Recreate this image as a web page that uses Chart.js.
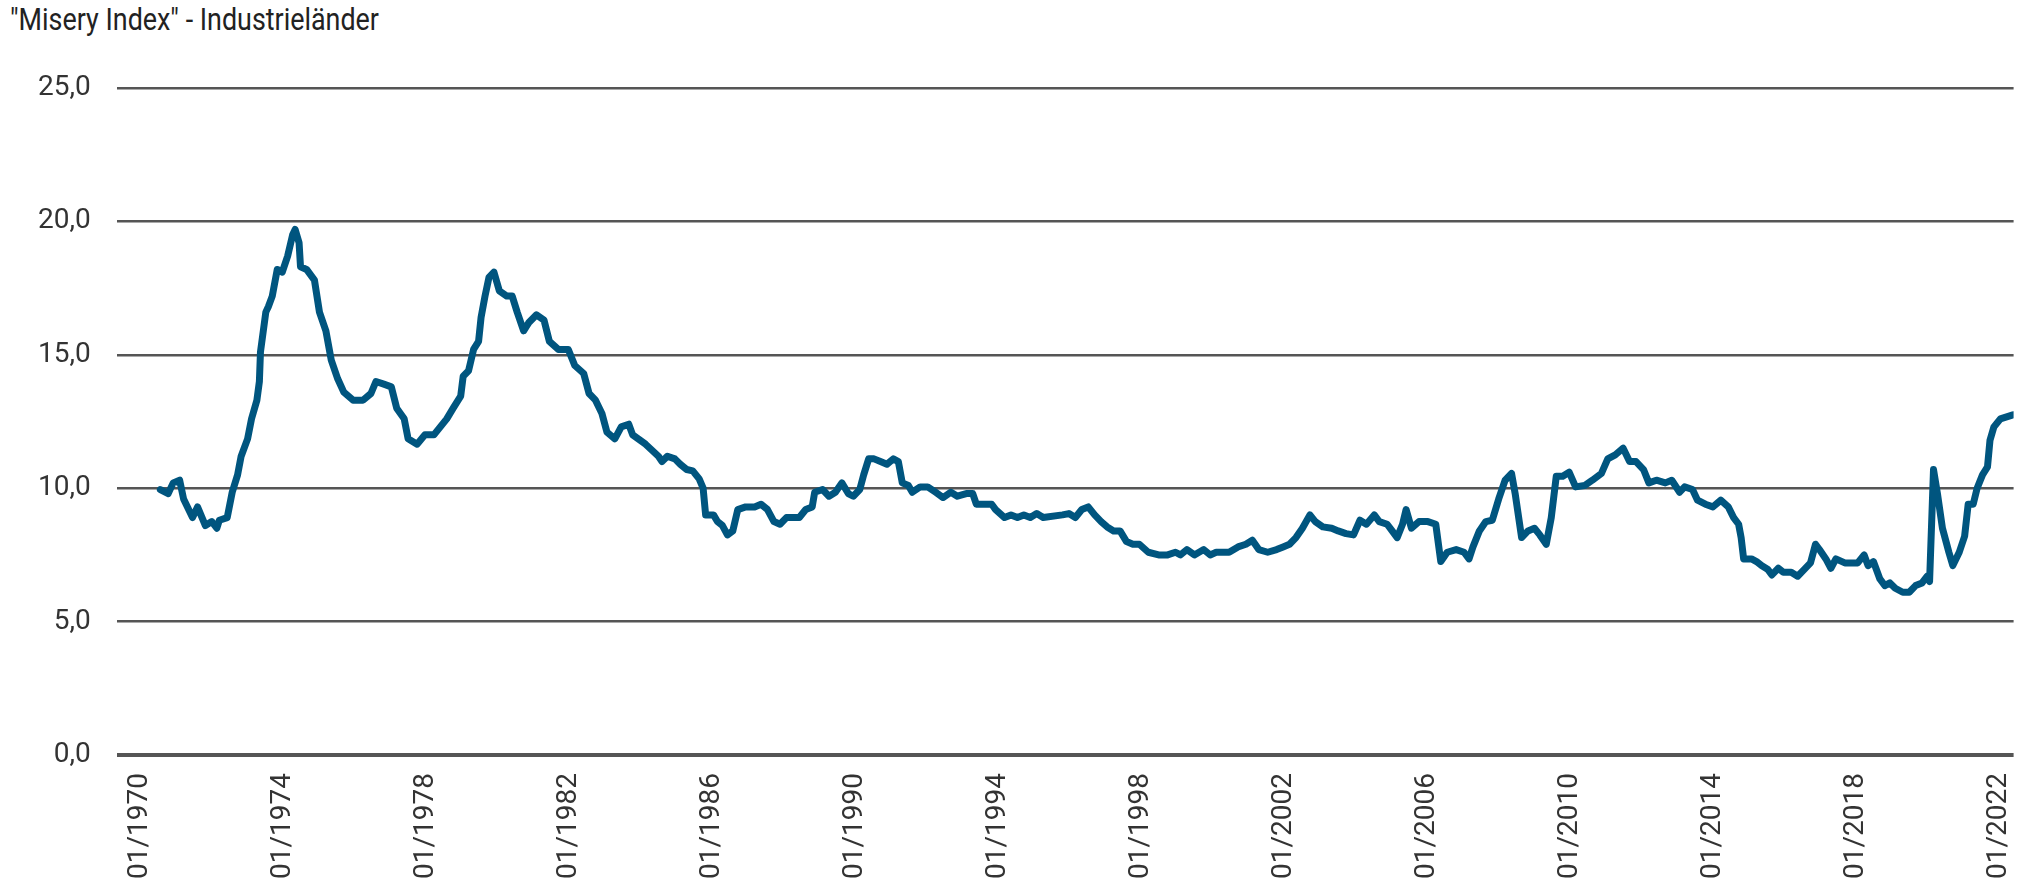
<!DOCTYPE html>
<html><head><meta charset="utf-8">
<script src="https://cdn.jsdelivr.net/npm/chart.js@4"></script>
<style>
body{margin:0;background:#fff;width:2043px;height:893px;overflow:hidden;font-family:Roboto,sans-serif}
#t{position:absolute;left:10px;top:0px;font-size:32px;color:#222;transform:scaleX(0.84);transform-origin:left top}
#w{position:absolute;left:0;top:0;width:2043px;height:893px}
</style></head><body>
<div id="t">"Misery Index" - Industrieländer</div>
<div id="w"><canvas id="c"></canvas></div>
<script>
const baseYear = 1970;
const yearOffsets = [0.57,0.79,0.93,1.11,1.22,1.47,1.61,1.83,2.01,2.15,2.22,2.44,2.58,2.73,2.83,3.01,3.12,3.27,3.34,3.37,3.52,3.59,3.70,3.84,3.98,4.13,4.27,4.34,4.45,4.49,4.66,4.88,5.02,5.20,5.35,5.53,5.70,5.96,6.24,6.46,6.60,6.82,7.03,7.18,7.39,7.50,7.75,7.97,8.22,8.40,8.58,8.76,8.97,9.04,9.19,9.33,9.47,9.54,9.65,9.76,9.90,10.05,10.26,10.41,10.55,10.73,10.87,11.09,11.30,11.45,11.70,11.98,12.16,12.41,12.56,12.74,12.92,13.06,13.28,13.46,13.67,13.78,14.14,14.50,14.60,14.75,14.96,15.11,15.29,15.46,15.64,15.75,15.82,16.04,16.15,16.29,16.43,16.58,16.72,16.94,17.19,17.37,17.55,17.73,17.90,18.08,18.44,18.62,18.80,18.87,19.09,19.27,19.45,19.63,19.81,19.95,20.13,20.24,20.38,20.53,20.71,20.89,21.07,21.21,21.32,21.49,21.60,21.82,22.03,22.25,22.46,22.68,22.86,23.11,23.29,23.39,23.82,23.93,24.18,24.36,24.54,24.72,24.90,25.08,25.26,25.80,25.98,26.16,26.34,26.52,26.70,26.88,27.05,27.23,27.41,27.59,27.77,27.95,28.20,28.49,28.74,28.96,29.10,29.28,29.49,29.75,29.93,30.10,30.46,30.71,30.93,31.11,31.29,31.54,31.79,31.97,32.15,32.33,32.51,32.72,32.87,33.08,33.33,33.51,33.73,33.94,34.12,34.30,34.52,34.66,34.88,35.02,35.16,35.31,35.41,35.56,35.77,36.02,36.24,36.38,36.56,36.81,37.03,37.17,37.28,37.46,37.64,37.82,38.00,38.18,38.36,38.46,38.64,38.82,39.00,39.15,39.33,39.47,39.61,39.79,39.97,40.15,40.40,40.62,40.87,41.05,41.26,41.48,41.66,41.84,42.05,42.20,42.41,42.66,42.84,43.06,43.20,43.42,43.56,43.78,43.99,44.21,44.42,44.57,44.71,44.78,44.85,45.07,45.21,45.35,45.53,45.64,45.82,45.96,46.18,46.36,46.54,46.72,46.86,46.97,47.15,47.29,47.43,47.68,48.04,48.22,48.33,48.48,48.66,48.80,48.94,49.09,49.30,49.48,49.66,49.84,49.98,50.05,50.16,50.27,50.41,50.59,50.70,50.88,51.03,51.13,51.27,51.38,51.53,51.67,51.74,51.85,52.03,52.38];
const miseryValues = [9.95,9.8,10.2,10.3,9.6,8.9,9.3,8.6,8.75,8.5,8.8,8.9,9.85,10.5,11.2,11.85,12.6,13.3,14.0,15.1,16.6,16.8,17.2,18.2,18.1,18.7,19.5,19.7,19.2,18.3,18.2,17.8,16.6,15.9,14.8,14.1,13.6,13.3,13.3,13.55,14.0,13.9,13.8,13.0,12.6,11.85,11.65,12.0,12.0,12.3,12.6,13.0,13.45,14.2,14.4,15.2,15.5,16.4,17.2,17.9,18.1,17.4,17.2,17.2,16.6,15.9,16.2,16.5,16.3,15.5,15.2,15.2,14.6,14.3,13.55,13.3,12.8,12.1,11.85,12.3,12.4,12.0,11.65,11.2,11.0,11.2,11.1,10.9,10.7,10.65,10.35,10.0,9.0,9.0,8.75,8.6,8.25,8.4,9.2,9.3,9.3,9.4,9.2,8.75,8.65,8.9,8.9,9.2,9.3,9.85,9.95,9.7,9.85,10.2,9.8,9.7,9.95,10.5,11.1,11.1,11.0,10.9,11.1,11.0,10.2,10.1,9.85,10.05,10.05,9.85,9.65,9.85,9.7,9.8,9.8,9.4,9.4,9.2,8.9,9.0,8.9,9.0,8.9,9.05,8.9,9.0,9.05,8.9,9.2,9.3,9.0,8.75,8.55,8.4,8.4,8.0,7.9,7.9,7.6,7.5,7.5,7.6,7.5,7.7,7.5,7.7,7.5,7.6,7.6,7.8,7.9,8.05,7.7,7.6,7.7,7.8,7.9,8.15,8.5,9.0,8.75,8.55,8.5,8.4,8.3,8.25,8.8,8.65,9.0,8.75,8.65,8.4,8.15,8.65,9.2,8.5,8.75,8.75,8.65,7.25,7.6,7.7,7.6,7.35,7.8,8.4,8.75,8.8,9.6,10.3,10.55,9.8,8.15,8.4,8.5,8.25,7.9,8.9,10.45,10.45,10.6,10.05,10.1,10.3,10.55,11.1,11.25,11.5,11.0,11.0,10.7,10.2,10.3,10.2,10.3,9.85,10.05,9.95,9.55,9.4,9.3,9.55,9.3,8.9,8.65,8.15,7.35,7.35,7.25,7.1,6.95,6.75,7.0,6.85,6.85,6.7,6.95,7.2,7.9,7.7,7.35,7.0,7.35,7.2,7.2,7.5,7.1,7.25,6.6,6.35,6.45,6.25,6.1,6.1,6.35,6.45,6.7,6.5,10.7,9.8,8.5,7.6,7.1,7.6,8.2,9.4,9.4,10.0,10.5,10.8,11.8,12.3,12.6,12.75];
const xTickOffsets = [0,4,8,12,16,20,24,28,32,36,40,44,48,52];
const yTicks = [0,5,10,15,20,25];

const pts = yearOffsets.map((x,i)=>({x, y: miseryValues[i]}));
new Chart(document.getElementById('c'), {
  type:'line',
  data:{datasets:[{data:pts, borderColor:'#00557f', borderWidth:7, pointRadius:0, tension:0, borderJoinStyle:'round', borderCapStyle:'round'}]},
  options:{
    responsive:true, maintainAspectRatio:false, animation:false,
    layout:{padding:{top:88,left:12,right:14,bottom:4}},
    plugins:{legend:{display:false}, tooltip:{enabled:false}},
    scales:{
      x:{type:'linear', min:-0.65, max:52.4,
        afterBuildTicks:a=>{a.ticks = xTickOffsets.map(v=>({value:v}));},
        grid:{display:false}, border:{display:false},
        ticks:{maxRotation:90, minRotation:90, autoSkip:false, color:'#333', font:{family:'Roboto', size:28}, padding:10,
          callback:v=>'01/'+(baseYear+v)}},
      y:{min:0, max:25,
        afterBuildTicks:a=>{a.ticks = yTicks.map(v=>({value:v}));},
        border:{display:false},
        grid:{color:'#555', lineWidth:c=>c.tick.value===0?4:2.5, drawTicks:false},
        ticks:{color:'#333', font:{family:'Roboto', size:28}, padding:26,
          callback:v=>v.toFixed(1).replace('.',',')}}
    }
  }
});
</script></body></html>
